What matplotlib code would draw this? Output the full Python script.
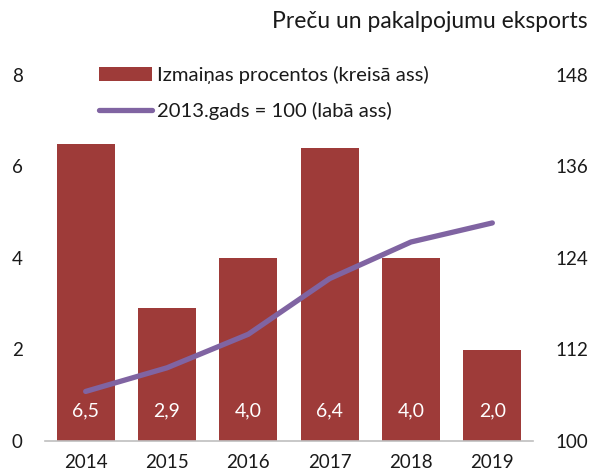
import matplotlib
matplotlib.use("Agg")
import matplotlib.pyplot as plt
import numpy as np

years = ["2014", "2015", "2016", "2017", "2018", "2019"]
pct_change = [6.5, 2.9, 4.0, 6.4, 4.0, 2.0]
index_2013 = [106.5, 109.6, 114.0, 121.3, 126.1, 128.6]
left_ticks = [0, 2, 4, 6, 8]
right_ticks = [100, 112, 124, 136, 148]
title = "Preču un pakalpojumu eksports"
bar_label = "Izmaiņas procentos (kreisā ass)"
line_label = "2013.gads = 100 (labā ass)"

plt.rcParams['font.family'] = ['Lato', 'DejaVu Sans']

bar_color = "#9E3B39"
line_color = "#8064A2"
text_color = "#1a1a1a"

fig = plt.figure(figsize=(5.95, 4.72), dpi=100)
ax = fig.add_axes([45/595, 1-441/472, (533-45)/595, (441-75)/472])
ax2 = ax.twinx()

x = np.arange(len(years))
bars = ax.bar(x, pct_change, width=0.71, color=bar_color, label=bar_label, zorder=2)
ax.set_xlim(-0.5, len(years)-0.5)
ax.set_ylim(0, 8)
ax.set_yticks(left_ticks)
ax.set_yticklabels([str(t) for t in left_ticks])
ax.set_xticks(x)
ax.set_xticklabels(years)

for xi, v in zip(x, pct_change):
    ax.text(xi, 0.66, f"{v:.1f}".replace(".", ","), ha="center", va="center",
            color="white", fontsize=14)

line, = ax2.plot(x, index_2013, color=line_color, lw=3.8, solid_capstyle="round",
                 label=line_label, zorder=3)
ax2.set_ylim(100, 148)
ax2.set_yticks(right_ticks)
ax2.set_yticklabels([str(t) for t in right_ticks])

for a in (ax, ax2):
    for s in a.spines.values():
        s.set_visible(False)
    a.tick_params(length=0, labelsize=13.5, colors=text_color)
ax.spines['bottom'].set_visible(True)
ax.spines['bottom'].set_color("#bfbfbf")
ax.spines['bottom'].set_linewidth(1.2)
ax.tick_params(axis='y', pad=16)
ax.tick_params(axis='x', pad=9)
ax2.tick_params(axis='y', pad=16)

fig.text(588/595, 1-22/472, title, ha="right", va="center", fontsize=16.5, color=text_color)

leg = ax2.legend([bars, line], [bar_label, line_label], loc="upper left",
                 bbox_to_anchor=(99/595, 1-66/472), bbox_transform=fig.transFigure,
                 frameon=False, fontsize=14.6, handlelength=2.6, handletextpad=0.24,
                 labelspacing=0.9, borderaxespad=0, borderpad=0)
for t in leg.get_texts():
    t.set_color(text_color)

fig.savefig("out.png", dpi=100)
